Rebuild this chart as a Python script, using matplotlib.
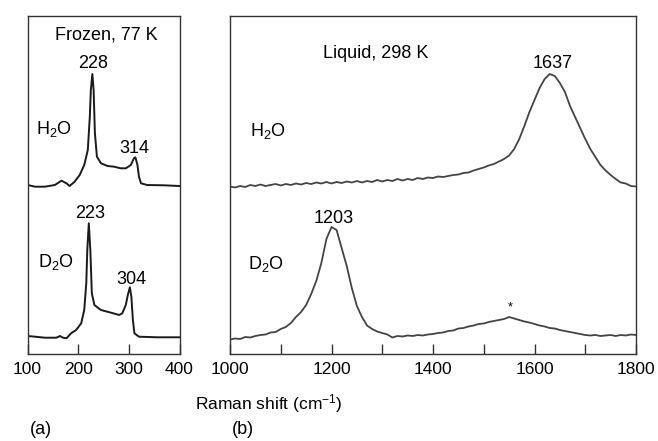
import numpy as np
import matplotlib
matplotlib.use("Agg")
import matplotlib.pyplot as plt
from matplotlib.ticker import MultipleLocator

plt.rcParams['font.family'] = ['Liberation Sans', 'DejaVu Sans']
plt.rcParams['mathtext.fontset'] = 'custom'
plt.rcParams['mathtext.rm'] = 'Liberation Sans'
plt.rcParams['mathtext.it'] = 'Liberation Sans:italic'
plt.rcParams['mathtext.bf'] = 'Liberation Sans:bold'

# ---------------- data ----------------
# (a) Frozen, 77 K  (Raman shift in cm-1, intensity in arbitrary units)
frozen_h2o_x = [100, 115, 134, 154, 167, 177, 183, 193, 203, 212, 219, 223, 225,
                228, 230.5, 233, 237, 245, 258, 271, 284, 294, 304, 310, 313,
                317, 320, 324, 336, 369, 400]
frozen_h2o_y = [169, 167.3, 167.3, 169, 173.3, 170.7, 168, 172.3, 179, 189, 204,
                237.3, 264, 280, 264, 221, 197.3, 190.7, 188, 187.3, 185.7,
                185.7, 189, 195.7, 196.7, 189, 177.3, 170.7, 169, 168.7, 168]

frozen_d2o_x = [100, 115, 134, 157, 164, 170, 177, 186, 196, 206, 212, 216, 218,
                221, 224, 227, 232, 245, 265, 281, 287, 294, 298, 302, 305, 308,
                311, 320, 356, 400]
frozen_d2o_y = [18, 17.3, 16.3, 16.3, 18, 16.3, 15.7, 20.7, 24, 30.7, 44, 70.7,
                104, 130.7, 104, 60.7, 49, 44, 41.3, 39, 40.7, 49, 59, 66.7, 57.3,
                34, 20.7, 17.3, 16.7, 16.7]

# (b) Liquid, 298 K, sampled every 10 cm-1 from 1000 to 1800
liquid_x = list(range(1000, 1801, 10))
liquid_h2o_y = [167.5, 166.5, 168, 167, 169, 168, 169.5, 168, 169, 170,
                168.5, 170, 169, 170.5, 169.5, 171, 170, 171.5, 170.5, 172,
                170.5, 172, 171, 172.5, 171.5, 173, 171.5, 173, 172, 174,
                172.5, 174, 173, 175, 173.5, 175, 174, 176, 175, 176.5,
                176, 177.5, 177, 178, 179, 179.5, 181, 181.5, 183.5, 185,
                186.5, 188.5, 190, 192.5, 195, 198.5, 205, 215, 228, 242,
                254, 266, 275, 280, 278, 271, 262, 248, 237, 226,
                215, 205, 197, 189, 183.5, 179, 175, 171.5, 170.5, 168,
                167.5]
liquid_d2o_y = [14.5, 15.5, 15, 17, 16.5, 18, 19, 19.5, 21.5, 22,
                25, 27, 31, 37, 42, 49, 60, 73, 91, 115,
                127, 124, 106, 88, 66, 48, 37, 28.5, 25, 22.5,
                21, 19.5, 16.5, 18, 17.5, 18.5, 18, 19, 18.5, 19.5,
                20, 21, 21.5, 23, 23.5, 25.5, 26, 27.5, 28.5, 30,
                30.5, 32, 33, 34, 35, 37, 35.5, 34, 32.5, 31.5,
                30, 28.5, 27.5, 26, 25.5, 24, 23, 22, 21, 20,
                19, 18.5, 19, 18, 18.5, 19, 18, 19, 18.5, 19.5,
                19]

left_ticks = [100, 200, 300, 400]
right_ticks = [1000, 1200, 1400, 1600, 1800]

# ---------------- figure ----------------
W, H = 658, 441
fig = plt.figure(figsize=(W / 100, H / 100), dpi=100)

def ax_rect(x0, y0, x1, y1):
    return [x0 / W, 1 - y1 / H, (x1 - x0) / W, (y1 - y0) / H]

ax1 = fig.add_axes(ax_rect(27.5, 15.7, 179.5, 354))
ax2 = fig.add_axes(ax_rect(230, 15.7, 636, 354))

spine_col = '#333333'
for ax in (ax1, ax2):
    for s in ax.spines.values():
        s.set_color(spine_col)
        s.set_linewidth(1.0)
    ax.set_yticks([])
    ax.tick_params(axis='x', direction='in', length=7.5, width=1.0,
                   colors=spine_col, labelcolor='black', labelsize=12.5, pad=6)
    ax.tick_params(axis='x', which='minor', direction='in', length=7.5,
                   width=1.0, colors=spine_col)
    ax.set_ylim(0, 338.3)

ax1.plot(frozen_h2o_x, frozen_h2o_y, color='#1a1a1a', lw=1.4)
ax1.plot(frozen_d2o_x, frozen_d2o_y, color='#1a1a1a', lw=1.4)
ax1.set_xlim(100, 400)
ax1.set_xticks(left_ticks)

ax2.plot(liquid_x, liquid_h2o_y, color='#444444', lw=1.3)
ax2.plot(liquid_x, liquid_d2o_y, color='#444444', lw=1.3)
ax2.set_xlim(1000, 1800)
ax2.set_xticks(right_ticks)
ax2.xaxis.set_minor_locator(MultipleLocator(100))

def ftext(x, y, s, size=13, ha='center', va='center'):
    fig.text(x / W, 1 - y / H, s, fontsize=size, ha=ha, va=va)

ftext(106.7, 35, 'Frozen, 77 K')
ftext(93, 63, '228')
ftext(134.7, 148.3, '314')
ftext(36.5, 129, 'H$_2$O', ha='left')
ftext(90, 213.3, '223')
ftext(37.5, 262, 'D$_2$O', ha='left')
ftext(131.2, 279.3, '304')

ftext(376, 53.3, 'Liquid, 298 K')
ftext(553, 63, '1637')
ftext(249.5, 131, 'H$_2$O', ha='left')
ftext(334, 218.3, '1203')
ftext(248.5, 264, 'D$_2$O', ha='left')
ftext(509.7, 307.5, '*', size=9)

ftext(268.5, 404, 'Raman shift (cm$^{-1}$)', size=12.5)
ftext(40.5, 430, '(a)', size=13)
ftext(242.5, 430, '(b)', size=13)

fig.savefig('out.png', dpi=100)
